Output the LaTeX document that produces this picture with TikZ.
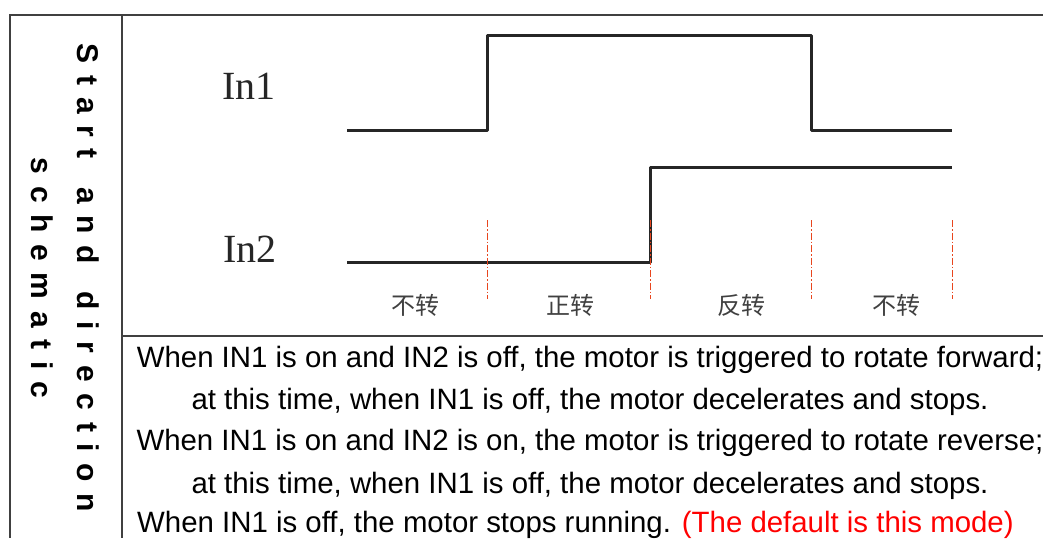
\documentclass[tikz,border=0pt]{standalone}
\usepackage{fontspec}
\setmainfont{Liberation Sans}
\newfontfamily\serifin{Liberation Serif}
\newfontfamily\cjk{Noto Sans CJK SC}
\newfontfamily\spacedsans[LetterSpace=39,WordSpace=1.4]{Liberation Sans}
\usepackage{tikz}
\usetikzlibrary{positioning}

\begin{document}
\begin{tikzpicture}[
    x=1pt, y=-1pt,
    frame/.style={draw=black!75, line width=1.3pt},
    sig/.style={draw=black!85, line width=3pt, line join=round},
    stateline/.style={draw={rgb,255:red,232;green,70;blue,30}, line width=1pt,
                 dash pattern=on 7pt off 2pt on 1.5pt off 2pt},
    inlab/.style={font=\serifin\fontsize{40}{40}\selectfont, text=black!85},
    state/.style={font=\cjk\fontsize{24}{24}\selectfont, text=black!75},
    note/.style={font=\fontsize{29.4}{29.4}\selectfont, inner sep=0pt}
]
\useasboundingbox (0,0) rectangle (1043,538);

% table frame
\draw[frame] (1043,15) -- (10,15) -- (10,538);
\draw[frame] (122,15) -- (122,538);
\draw[frame] (122,336) -- (1043,336);

% side title
\node[rotate=-90, align=center, font=\spacedsans\bfseries\fontsize{30}{46}\selectfont]
    (title) at (65,278) {Start and direction\\schematic};

% signal names
\node[inlab] (in1) at (249,86) {In1};
\node[inlab] (in2) at (250,249) {In2};

% waveforms
\draw[sig] (347,130) -- (487,130) -- (487,35) -- (811,35) -- (811,130) -- (952,130);
\draw[sig] (347,262) -- (650,262) -- (650,167) -- (952,167);

% state marks
\foreach \xm in {487,650,811,952}
  \draw[stateline] (\xm,220) -- (\xm,299);

% states
\node[state] (s1) at (415,305) {不转};
\node[state] (s2) at (570,305) {正转};
\node[state] (s3) at (741,305) {反转};
\node[state] (s4) at (896,305) {不转};

% description
\node[note] (l1) at (590,360) {When IN1 is on and IN2 is off, the motor is triggered to rotate forward;};
\node[note] (l2) at (590,402) {at this time, when IN1 is off, the motor decelerates and stops.};
\node[note] (l3) at (590,443) {When IN1 is on and IN2 is on, the motor is triggered to rotate reverse;};
\node[note] (l4) at (590,486) {at this time, when IN1 is off, the motor decelerates and stops.};
\node[note, anchor=west] (l5) at (137,525) {When IN1 is off, the motor stops running. \textcolor{red}{(The default is this mode)}};
\end{tikzpicture}
\end{document}
